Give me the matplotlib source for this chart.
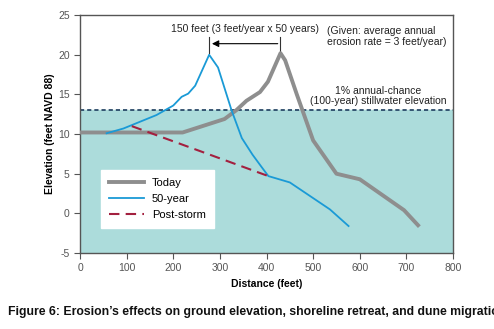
import numpy as np
import matplotlib.pyplot as plt

plt.rcParams['font.family'] = ['Liberation Sans', 'DejaVu Sans']
plt.rcParams['axes.unicode_minus'] = False

# profiles (distance in feet, elevation in feet NAVD 88)
today_x = [0, 220, 310, 335, 357, 386, 403, 430, 440, 465, 500, 550, 600, 695, 725]
today_y = [10.2, 10.2, 11.9, 13.0, 14.2, 15.3, 16.6, 20.2, 19.3, 15.0, 9.2, 5.0, 4.3, 0.4, -1.5]

year50_x = [57, 93, 164, 200, 218, 232, 247, 277, 296, 325, 347, 370, 390, 404, 450, 536, 576]
year50_y = [10.1, 10.7, 12.4, 13.6, 14.7, 15.1, 16.1, 20.0, 18.4, 13.0, 9.5, 7.4, 5.8, 4.7, 3.9, 0.5, -1.6]

storm_x = [111, 404]
storm_y = [11.0, 4.7]

stillwater = 13.0

fig = plt.figure(figsize=(4.94, 3.29), dpi=100)
ax = fig.add_axes([0.162, 0.231, 0.755, 0.723])

ax.axhspan(-5, stillwater, color='#acdcdb', zorder=0)
ax.axhline(stillwater, color='#1d3c5e', lw=1.2, ls=(0, (2.5, 1.8)), zorder=2)

ax.plot(today_x, today_y, color='#8e8e8e', lw=2.8, label='Today', zorder=3)
ax.plot(year50_x, year50_y, color='#1a9ad6', lw=1.3, label='50-year', zorder=4)
ax.plot(storm_x, storm_y, color='#a3203f', lw=1.5, ls=(0, (5, 3)), label='Post-storm', zorder=4)

# retreat annotation
ax.annotate('', xy=(277, 21.4), xytext=(430, 21.4),
            arrowprops=dict(arrowstyle='-|>', color='black', lw=0.8, mutation_scale=10))
ax.plot([277, 277], [20.2, 22.3], color='#333333', lw=0.8)
ax.plot([430, 430], [20.4, 22.3], color='#333333', lw=0.8)
ax.text(354, 23.3, '150 feet (3 feet/year x 50 years)', ha='center', va='center', fontsize=7.5, color='#222222')
ax.text(530, 22.3, '(Given: average annual\nerosion rate = 3 feet/year)', ha='left', va='center',
        fontsize=7.5, color='#222222', linespacing=1.1)
ax.text(640, 13.5, '1% annual-chance\n(100-year) stillwater elevation', ha='center', va='bottom',
        fontsize=7.5, color='#222222', linespacing=1.1)

ax.set_xlim(0, 800)
ax.set_ylim(-5, 25)
ax.set_xticks(np.arange(0, 801, 100))
ax.set_yticks(np.arange(-5, 26, 5))
ax.tick_params(labelsize=7.5, colors='#555555', length=4, width=0.8, labelcolor='#555555')
for s in ax.spines.values():
    s.set_color('#555555')
    s.set_linewidth(1.0)

ax.set_xlabel('Distance (feet)', fontsize=7.5, fontweight='bold', labelpad=4)
ax.set_ylabel('Elevation (feet NAVD 88)', fontsize=7.5, fontweight='bold', labelpad=2)

leg = ax.legend(loc='lower left', bbox_to_anchor=(0.056, 0.105), borderaxespad=0, frameon=True,
                fancybox=False, fontsize=8, handlelength=3.2, handletextpad=0.7, borderpad=0.7,
                labelspacing=0.55, edgecolor='white')
leg.get_frame().set_facecolor('white')
leg.get_frame().set_alpha(1)

fig.text(8 / 494, 1 - 312 / 329, "Figure 6: Erosion\u2019s effects on ground elevation, shoreline retreat, and dune migration",
         fontsize=8.8, fontweight='bold', ha='left', va='center', color='#111111')

fig.savefig('out.png', dpi=100)
